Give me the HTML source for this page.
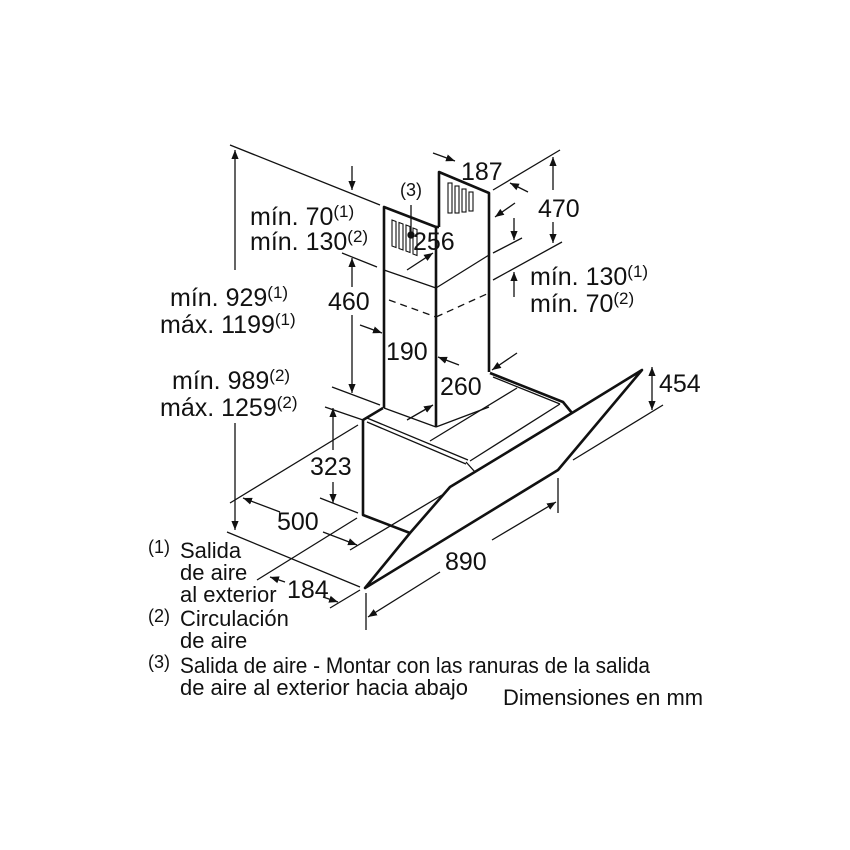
<!DOCTYPE html>
<html><head><meta charset="utf-8"><style>
html,body{margin:0;padding:0;background:#fff}
svg{display:block}
text{font-family:"Liberation Sans",Arial,sans-serif;fill:#111}
</style></head><body>
<svg width="850" height="850" viewBox="0 0 850 850" xmlns="http://www.w3.org/2000/svg">
<defs>
<marker id="a" viewBox="0 0 10 10" refX="10" refY="5" markerWidth="9" markerHeight="9" markerUnits="userSpaceOnUse" orient="auto-start-reverse"><path d="M0,1 L10,5 L0,9 z" fill="#111"/></marker>
</defs>
<rect width="850" height="850" fill="#fff"/>
<g stroke="#111" stroke-width="2.6" fill="none" stroke-linejoin="round">
<polyline points="436,427 436,227 384,207 384,408"/>
<polyline points="439,227 439,172 489,193 489,372"/>
<line x1="436" y1="227" x2="439" y2="227"/>
<polyline points="383,408 363,420 363,515 410,533"/>
<polyline points="490,373 563,402 572,413"/>
<polygon points="365,588 410,533 450,487 572,413 642,370 558,470"/>
</g>
<g stroke="#111" stroke-width="1.3" fill="none">
<line x1="384" y1="270" x2="436" y2="288"/>
<line x1="436" y1="288" x2="489" y2="255"/>
<line x1="389" y1="300" x2="436" y2="317" stroke-dasharray="7,5"/>
<line x1="436" y1="317" x2="489" y2="293" stroke-dasharray="7,5"/>
<line x1="384" y1="408" x2="436" y2="427"/>
<line x1="436" y1="427" x2="489" y2="407"/>
<line x1="367" y1="418" x2="468" y2="460"/>
<line x1="367" y1="422" x2="466" y2="464"/>
<line x1="466" y1="462" x2="475" y2="472"/>
<line x1="493" y1="377" x2="560" y2="404"/>
<line x1="430" y1="441" x2="517" y2="388"/>
<line x1="470" y1="461" x2="560" y2="404"/>
<line x1="475" y1="472" x2="572" y2="413"/>
<g stroke-width="1.1">
<polygon points="392,220 396,221.5 396,247.5 392,246"/>
<polygon points="399,222.5 403,224 403,250 399,248.5"/>
<polygon points="406,225 410,226.5 410,252.5 406,251"/>
<polygon points="413,228 417,229.5 417,255.5 413,254"/>
<rect x="448" y="183" width="4" height="30"/>
<rect x="455" y="186" width="4" height="27"/>
<rect x="462" y="189" width="4" height="23"/>
<rect x="469" y="192" width="4" height="19"/>
</g>
<circle cx="411" cy="235" r="3" fill="#111"/>
<line x1="411" y1="205" x2="411" y2="232"/>
<line x1="230" y1="145" x2="380" y2="205"/>
<line x1="235" y1="270" x2="235" y2="150" marker-end="url(#a)"/>
<line x1="235" y1="423" x2="235" y2="530" marker-end="url(#a)"/>
<line x1="352" y1="166" x2="352" y2="190" marker-end="url(#a)"/>
<line x1="342" y1="253" x2="377" y2="267"/>
<line x1="352" y1="287" x2="352" y2="258" marker-end="url(#a)"/>
<line x1="352" y1="315" x2="352" y2="393" marker-end="url(#a)"/>
<line x1="332" y1="387" x2="380" y2="405"/>
<line x1="325" y1="407" x2="363" y2="420"/>
<line x1="360" y1="325" x2="382" y2="333" marker-end="url(#a)"/>
<line x1="459" y1="365" x2="438" y2="357" marker-end="url(#a)"/>
<line x1="407" y1="270" x2="433" y2="253" marker-end="url(#a)"/>
<line x1="515" y1="203" x2="495" y2="217" marker-end="url(#a)"/>
<line x1="433" y1="153" x2="455" y2="161" marker-end="url(#a)"/>
<line x1="493" y1="190" x2="560" y2="150"/>
<line x1="528" y1="192" x2="510" y2="183" marker-end="url(#a)"/>
<line x1="553" y1="190" x2="553" y2="157" marker-end="url(#a)"/>
<line x1="553" y1="222" x2="553" y2="243" marker-end="url(#a)"/>
<line x1="493" y1="253" x2="522" y2="238"/>
<line x1="493" y1="280" x2="562" y2="242"/>
<line x1="514" y1="218" x2="514" y2="240" marker-end="url(#a)"/>
<line x1="514" y1="297" x2="514" y2="272" marker-end="url(#a)"/>
<line x1="517" y1="353" x2="492" y2="370" marker-end="url(#a)"/>
<line x1="407" y1="420" x2="433" y2="405" marker-end="url(#a)"/>
<line x1="652" y1="385" x2="652" y2="367" marker-end="url(#a)"/>
<line x1="652" y1="385" x2="652" y2="410" marker-end="url(#a)"/>
<line x1="573" y1="460" x2="663" y2="405"/>
<line x1="333" y1="450" x2="333" y2="408" marker-end="url(#a)"/>
<line x1="333" y1="482" x2="333" y2="503" marker-end="url(#a)"/>
<line x1="320" y1="498" x2="358" y2="513"/>
<line x1="230" y1="503" x2="358" y2="425"/>
<line x1="280" y1="512" x2="243" y2="498" marker-end="url(#a)"/>
<line x1="323" y1="532" x2="357" y2="545" marker-end="url(#a)"/>
<line x1="350" y1="550" x2="442" y2="495"/>
<line x1="227" y1="532" x2="360" y2="587"/>
<line x1="257" y1="580" x2="357" y2="518"/>
<line x1="285" y1="582" x2="270" y2="577" marker-end="url(#a)"/>
<line x1="323" y1="597" x2="338" y2="602" marker-end="url(#a)"/>
<line x1="330" y1="608" x2="360" y2="590"/>
<line x1="366" y1="593" x2="366" y2="630"/>
<line x1="558" y1="478" x2="558" y2="513"/>
<line x1="440" y1="572" x2="368" y2="617" marker-end="url(#a)"/>
<line x1="492" y1="540" x2="556" y2="502" marker-end="url(#a)"/>
</g>
<g font-size="25">
<text x="461" y="180">187</text>
<text x="538" y="217">470</text>
<text x="413" y="250">256</text>
<text x="328" y="310">460</text>
<text x="386" y="360">190</text>
<text x="440" y="395">260</text>
<text x="659" y="392">454</text>
<text x="310" y="475">323</text>
<text x="277" y="530">500</text>
<text x="287" y="598">184</text>
<text x="445" y="570">890</text>
<text x="250" y="225">mín. 70<tspan font-size="17" dy="-8">(1)</tspan></text>
<text x="250" y="250" dy="0">mín. 130<tspan font-size="17" dy="-8">(2)</tspan></text>
<text x="170" y="306">mín. 929<tspan font-size="17" dy="-8">(1)</tspan></text>
<text x="160" y="333">máx. 1199<tspan font-size="17" dy="-8">(1)</tspan></text>
<text x="172" y="389">mín. 989<tspan font-size="17" dy="-8">(2)</tspan></text>
<text x="160" y="416">máx. 1259<tspan font-size="17" dy="-8">(2)</tspan></text>
<text x="530" y="285">mín. 130<tspan font-size="17" dy="-8">(1)</tspan></text>
<text x="530" y="312">mín. 70<tspan font-size="17" dy="-8">(2)</tspan></text>
</g>
<text x="400" y="196" font-size="18">(3)</text>
<g font-size="22">
<text x="148" y="553" font-size="18">(1)</text>
<text x="180" y="558">Salida</text>
<text x="180" y="580">de aire</text>
<text x="180" y="602">al exterior</text>
<text x="148" y="622" font-size="18">(2)</text>
<text x="180" y="626">Circulación</text>
<text x="180" y="648">de aire</text>
<text x="148" y="668" font-size="18">(3)</text>
<text x="180" y="673" textLength="470" lengthAdjust="spacingAndGlyphs">Salida de aire - Montar con las ranuras de la salida</text>
<text x="180" y="695" textLength="288" lengthAdjust="spacingAndGlyphs">de aire al exterior hacia abajo</text>
<text x="503" y="705" textLength="200" lengthAdjust="spacingAndGlyphs">Dimensiones en mm</text>
</g>
</svg>
</body></html>
